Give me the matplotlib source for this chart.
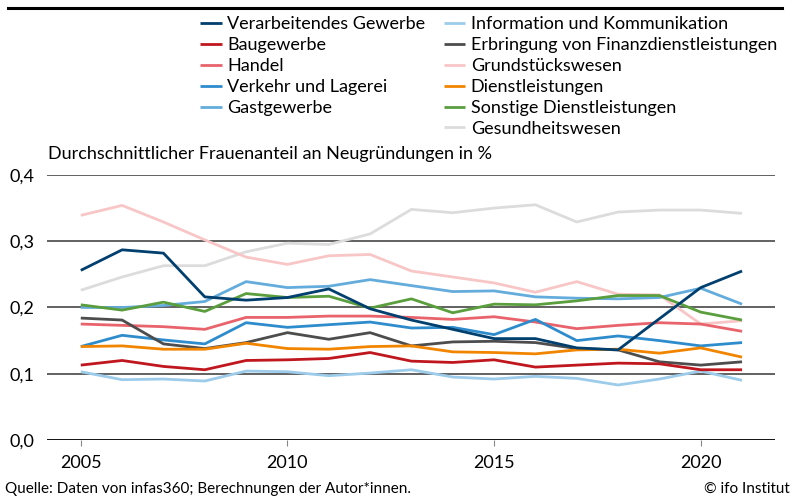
import numpy as np
import matplotlib.pyplot as plt
from matplotlib.ticker import FuncFormatter

plt.rcParams['font.family'] = ['Lato', 'DejaVu Sans']

years = list(range(2005, 2022))

verarbeitendes = [0.256, 0.287, 0.282, 0.216, 0.211, 0.215, 0.228, 0.198, 0.181, 0.167, 0.153, 0.153, 0.139, 0.136, 0.183, 0.230, 0.255]
bau = [0.113, 0.120, 0.111, 0.106, 0.120, 0.121, 0.123, 0.132, 0.119, 0.117, 0.121, 0.110, 0.113, 0.116, 0.115, 0.106, 0.106]
handel = [0.175, 0.173, 0.171, 0.167, 0.185, 0.185, 0.187, 0.187, 0.185, 0.182, 0.186, 0.178, 0.168, 0.173, 0.177, 0.175, 0.164]
verkehr = [0.141, 0.158, 0.151, 0.145, 0.177, 0.170, 0.174, 0.178, 0.169, 0.170, 0.159, 0.182, 0.150, 0.157, 0.150, 0.142, 0.147]
gast = [0.200, 0.200, 0.203, 0.209, 0.239, 0.230, 0.232, 0.242, 0.233, 0.224, 0.225, 0.216, 0.214, 0.213, 0.215, 0.229, 0.205]
info = [0.103, 0.091, 0.092, 0.089, 0.104, 0.103, 0.097, 0.101, 0.106, 0.095, 0.092, 0.096, 0.093, 0.083, 0.092, 0.104, 0.090]
finanz = [0.184, 0.181, 0.145, 0.138, 0.147, 0.162, 0.152, 0.162, 0.142, 0.148, 0.149, 0.147, 0.138, 0.136, 0.118, 0.113, 0.118]
grund = [0.339, 0.354, 0.329, 0.302, 0.276, 0.265, 0.278, 0.280, 0.255, 0.246, 0.237, 0.223, 0.239, 0.220, 0.219, 0.175, 0.180]
dienst = [0.141, 0.142, 0.137, 0.137, 0.146, 0.138, 0.137, 0.141, 0.142, 0.133, 0.132, 0.130, 0.136, 0.137, 0.131, 0.139, 0.125]
sonstige = [0.204, 0.196, 0.208, 0.194, 0.221, 0.215, 0.217, 0.199, 0.213, 0.192, 0.205, 0.204, 0.210, 0.218, 0.218, 0.193, 0.181]
gesund = [0.226, 0.246, 0.263, 0.263, 0.284, 0.297, 0.295, 0.311, 0.348, 0.343, 0.350, 0.355, 0.329, 0.344, 0.347, 0.347, 0.342]

series = [
    ("Verarbeitendes Gewerbe", verarbeitendes, "#003f6e"),
    ("Baugewerbe", bau, "#c0171e"),
    ("Handel", handel, "#e8636b"),
    ("Verkehr und Lagerei", verkehr, "#2f8ccc"),
    ("Gastgewerbe", gast, "#64acdc"),
    ("Information und Kommunikation", info, "#9dcbea"),
    ("Erbringung von Finanzdienstleistungen", finanz, "#4d4d4d"),
    ("Grundstückswesen", grund, "#f8c6c6"),
    ("Dienstleistungen", dienst, "#f28500"),
    ("Sonstige Dienstleistungen", sonstige, "#5a9e3e"),
    ("Gesundheitswesen", gesund, "#dcdcdc"),
]

fig = plt.figure(figsize=(7.95, 4.97), dpi=100)
ax = fig.add_axes([0.059, 0.1147, 0.916, 0.5333])

# draw light ones first so dark lines sit on top
draw_order = [10, 7, 5, 4, 9, 2, 3, 6, 8, 1, 0]
lines = {}
for i in draw_order:
    name, vals, col = series[i]
    ln, = ax.plot(years, vals, color=col, lw=2.0, solid_capstyle='butt', label=name)
    lines[i] = ln
handles = [lines[i] for i in range(len(series))]

ax.set_xlim(2004.18, 2021.8)
ax.set_ylim(0, 0.4)
ax.set_yticks([0, 0.1, 0.2, 0.3, 0.4])
ax.yaxis.set_major_formatter(FuncFormatter(lambda v, p: f"{v:.1f}".replace(".", ",")))
ax.set_xticks([2005, 2010, 2015, 2020])
for y in [0.1, 0.2, 0.3, 0.4]:
    ax.axhline(y, color="#555555", lw=1.3, zorder=0)
ax.axhline(0, color="black", lw=1.3, zorder=0)
for s in ax.spines.values():
    s.set_visible(False)
ax.tick_params(axis='y', length=0, pad=9, labelsize=13)
ax.tick_params(axis='x', length=4, color="#888888", pad=7, labelsize=13)

fig.text(0.061, 0.675, "Durchschnittlicher Frauenanteil an Neugründungen in %", fontsize=13, va='bottom')

leg_kw = dict(frameon=False, fontsize=13, handlelength=1.2, handletextpad=0.3,
              labelspacing=0.27, borderaxespad=0, borderpad=0, loc='upper left')
leg1 = fig.legend(handles=handles[:5], bbox_to_anchor=(0.252, 0.967), **leg_kw)
leg2 = fig.legend(handles=handles[5:], bbox_to_anchor=(0.558, 0.967), **leg_kw)

# rule under the (cropped) title
fig.add_artist(plt.Line2D([0.01, 0.984], [0.984, 0.984], color="black", lw=2.2))

fig.text(0.006, 0.008, "Quelle: Daten von infas360; Berechnungen der Autor*innen.", fontsize=11)
fig.text(0.994, 0.008, "© ifo Institut", fontsize=11, ha='right')

fig.savefig("out.png", dpi=100)
